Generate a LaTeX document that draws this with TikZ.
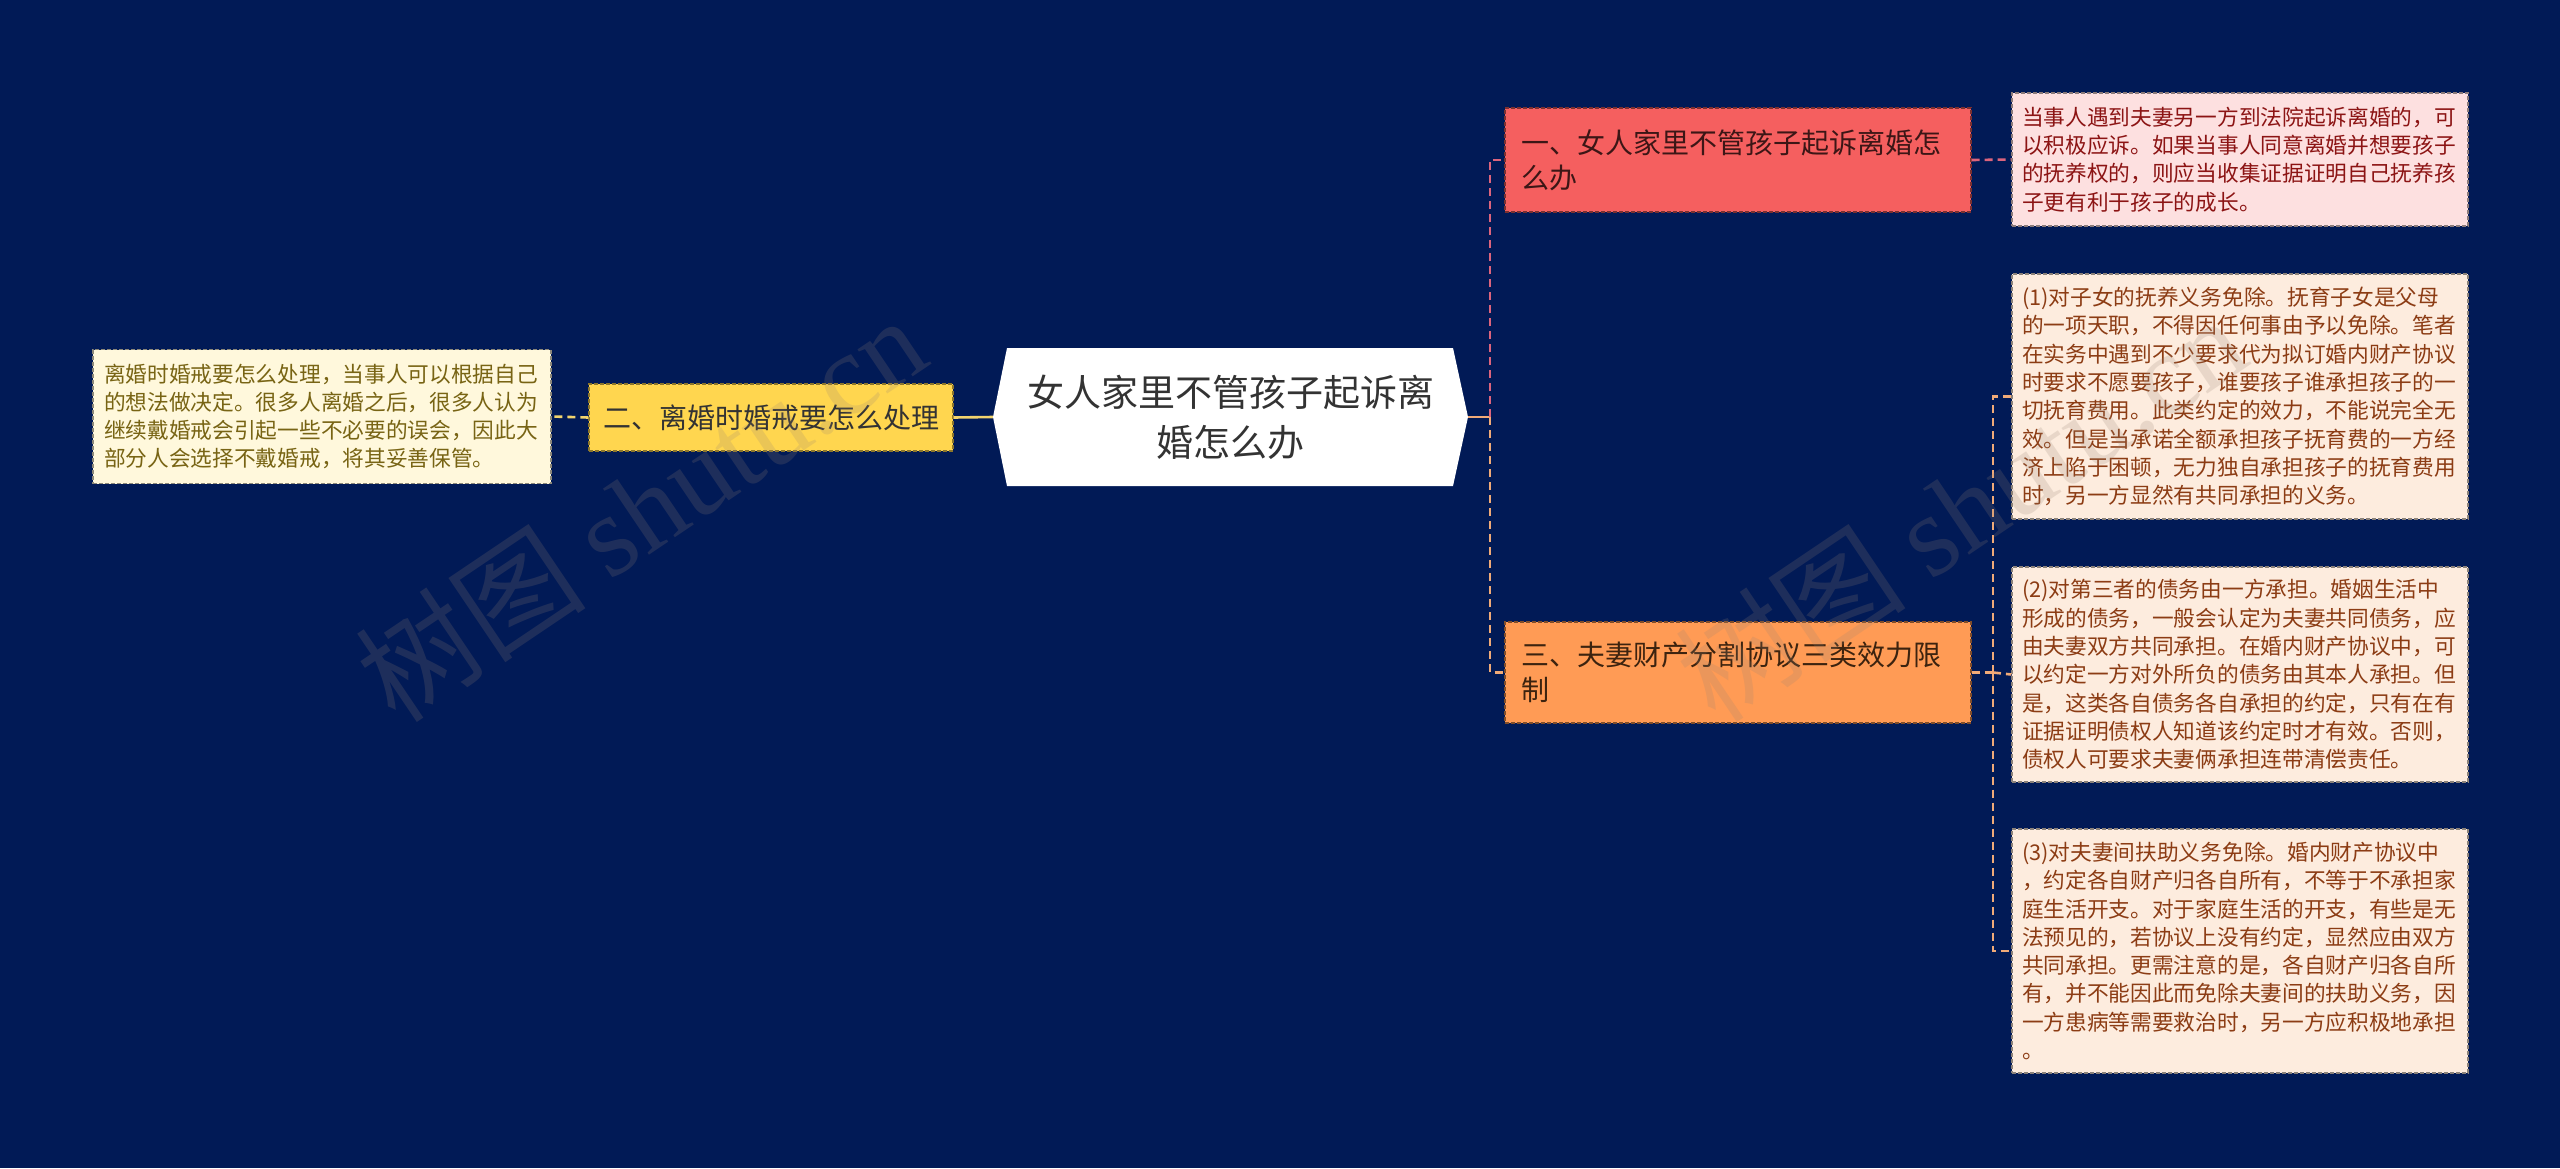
\documentclass[tikz,border=0pt]{standalone}
\usepackage{fontspec}
\setmainfont{Noto Sans CJK SC}
\newfontfamily\wmfont{Liberation Serif}
\definecolor{bg}{RGB}{1,26,86}
\definecolor{rootText}{RGB}{51,51,51}
\definecolor{yFill}{RGB}{255,214,79}
\definecolor{yLeafFill}{RGB}{255,248,220}
\definecolor{yLeafText}{RGB}{120,100,20}
\definecolor{yLine}{RGB}{242,212,110}
\definecolor{rFill}{RGB}{245,95,95}
\definecolor{rText}{RGB}{60,22,22}
\definecolor{pLeafFill}{RGB}{253,224,224}
\definecolor{pLeafText}{RGB}{140,20,20}
\definecolor{pLine}{RGB}{220,100,125}
\definecolor{oFill}{RGB}{255,155,85}
\definecolor{oText}{RGB}{60,35,15}
\definecolor{oLeafFill}{RGB}{253,236,222}
\definecolor{oLeafText}{RGB}{140,60,20}
\definecolor{oLine}{RGB}{240,170,120}
\definecolor{wm}{RGB}{150,130,115}
\tikzset{
  boxbase/.style={inner ysep=0pt, line width=1.2pt, dash pattern=on 4pt off 2pt},
  branchbox/.style={boxbase, inner xsep=16pt, text width=434pt, align=left,
     font=\fontsize{28}{35}\selectfont},
  leafbox/.style={boxbase, inner xsep=10pt, minimum width=456pt, text width=436pt, align=left,
     font=\fontsize{21.7}{28.3}\selectfont},
  conn/.style={line width=2.6pt, dash pattern=on 8pt off 5pt},
  wmark/.style={rotate=34, text=wm, opacity=0.2, font=\fontsize{116}{116}\selectfont}
}
\begin{document}
\begin{tikzpicture}[x=1pt,y=-1pt]
\fill[bg] (0,0) rectangle (2560,1168);
\useasboundingbox (0,0) rectangle (2560,1168);

% root shape
\fill[white] (993,417) -- (1007,348) -- (1453,348) -- (1468,417) -- (1453,486) -- (1007,486) -- cycle;
\node[minimum width=475pt, minimum height=138pt, inner sep=0pt, align=center,
      font=\fontsize{37}{50}\selectfont, text=rootText] (root) at (1230.5,417)
      {女人家里不管孩子起诉离\\婚怎么办};

% left branch
\node[boxbase, fill=yFill, draw=yFill!55!black, minimum width=364pt, minimum height=67pt,
      inner xsep=0pt, align=center, font=\fontsize{28}{35}\selectfont, text=rootText] (b2) at (771,417.5)
      {二、离婚时婚戒要怎么处理};
\node[leafbox, fill=yLeafFill, draw=yLeafFill!55!black, minimum width=458pt, minimum height=134pt,
      text=yLeafText] (l2) at (322,416.5)
      {离婚时婚戒要怎么处理，当事人可以根据自己\\的想法做决定。很多人离婚之后，很多人认为\\继续戴婚戒会引起一些不必要的误会，因此大\\部分人会选择不戴婚戒，将其妥善保管。};

% right branch 1
\node[branchbox, fill=rFill, draw=rFill!50!black, minimum width=466pt, minimum height=104pt,
      text=rText] (b1) at (1738,160)
      {一、女人家里不管孩子起诉离婚怎\\么办};
\node[leafbox, fill=pLeafFill, draw=pLeafFill!55!black, minimum height=133pt,
      text=pLeafText] (l1) at (2240,159.5)
      {当事人遇到夫妻另一方到法院起诉离婚的，可\\以积极应诉。如果当事人同意离婚并想要孩子\\的抚养权的，则应当收集证据证明自己抚养孩\\子更有利于孩子的成长。};

% right branch 3
\node[branchbox, fill=oFill, draw=oFill!50!black, minimum width=466pt, minimum height=101pt,
      text=oText] (b3) at (1738,672.5)
      {三、夫妻财产分割协议三类效力限\\制};
\node[leafbox, fill=oLeafFill, draw=oLeafFill!55!black, minimum height=245pt,
      text=oLeafText] (l3a) at (2240,396.5)
      {(1)对子女的抚养义务免除。抚育子女是父母\\的一项天职，不得因任何事由予以免除。笔者\\在实务中遇到不少要求代为拟订婚内财产协议\\时要求不愿要孩子，谁要孩子谁承担孩子的一\\切抚育费用。此类约定的效力，不能说完全无\\效。但是当承诺全额承担孩子抚育费的一方经\\济上陷于困顿，无力独自承担孩子的抚育费用\\时，另一方显然有共同承担的义务。};
\node[leafbox, fill=oLeafFill, draw=oLeafFill!55!black, minimum height=215pt,
      text=oLeafText] (l3b) at (2240,674.5)
      {(2)对第三者的债务由一方承担。婚姻生活中\\形成的债务，一般会认定为夫妻共同债务，应\\由夫妻双方共同承担。在婚内财产协议中，可\\以约定一方对外所负的债务由其本人承担。但\\是，这类各自债务各自承担的约定，只有在有\\证据证明债权人知道该约定时才有效。否则，\\债权人可要求夫妻俩承担连带清偿责任。};
\node[leafbox, fill=oLeafFill, draw=oLeafFill!55!black, minimum height=244pt,
      text=oLeafText] (l3c) at (2240,951)
      {(3)对夫妻间扶助义务免除。婚内财产协议中\\，约定各自财产归各自所有，不等于不承担家\\庭生活开支。对于家庭生活的开支，有些是无\\法预见的，若协议上没有约定，显然应由双方\\共同承担。更需注意的是，各自财产归各自所\\有，并不能因此而免除夫妻间的扶助义务，因\\一方患病等需要救治时，另一方应积极地承担\\。};

% connectors
\coordinate (t1) at (1490,417);
\coordinate (t2) at (1993,672.5);
\draw[yLine, line width=2.6pt] (root.west) -- (b2.east);
\draw[yLine, conn] (b2.west) -- (l2.east);
\draw[oLine, line width=2.6pt] (root.east) -- (t1);
\draw[pLine, conn] (t1) |- (b1.west);
\draw[oLine, conn] (t1) |- (b3.west);
\draw[pLine, conn] (b1.east) -- (l1.west);
\draw[oLine, conn] (b3.east) -- (t2);
\draw[oLine, conn] (t2) |- (l3a.west);
\draw[oLine, conn] (t2) -- (l3b.west);
\draw[oLine, conn] (t2) |- (l3c.west);

% watermarks
\node[wmark] (wm1) at (640,508) {树图 {\wmfont shutu.cn}};
\node[wmark] (wm2) at (1960,508) {树图 {\wmfont shutu.cn}};
\end{tikzpicture}
\end{document}
